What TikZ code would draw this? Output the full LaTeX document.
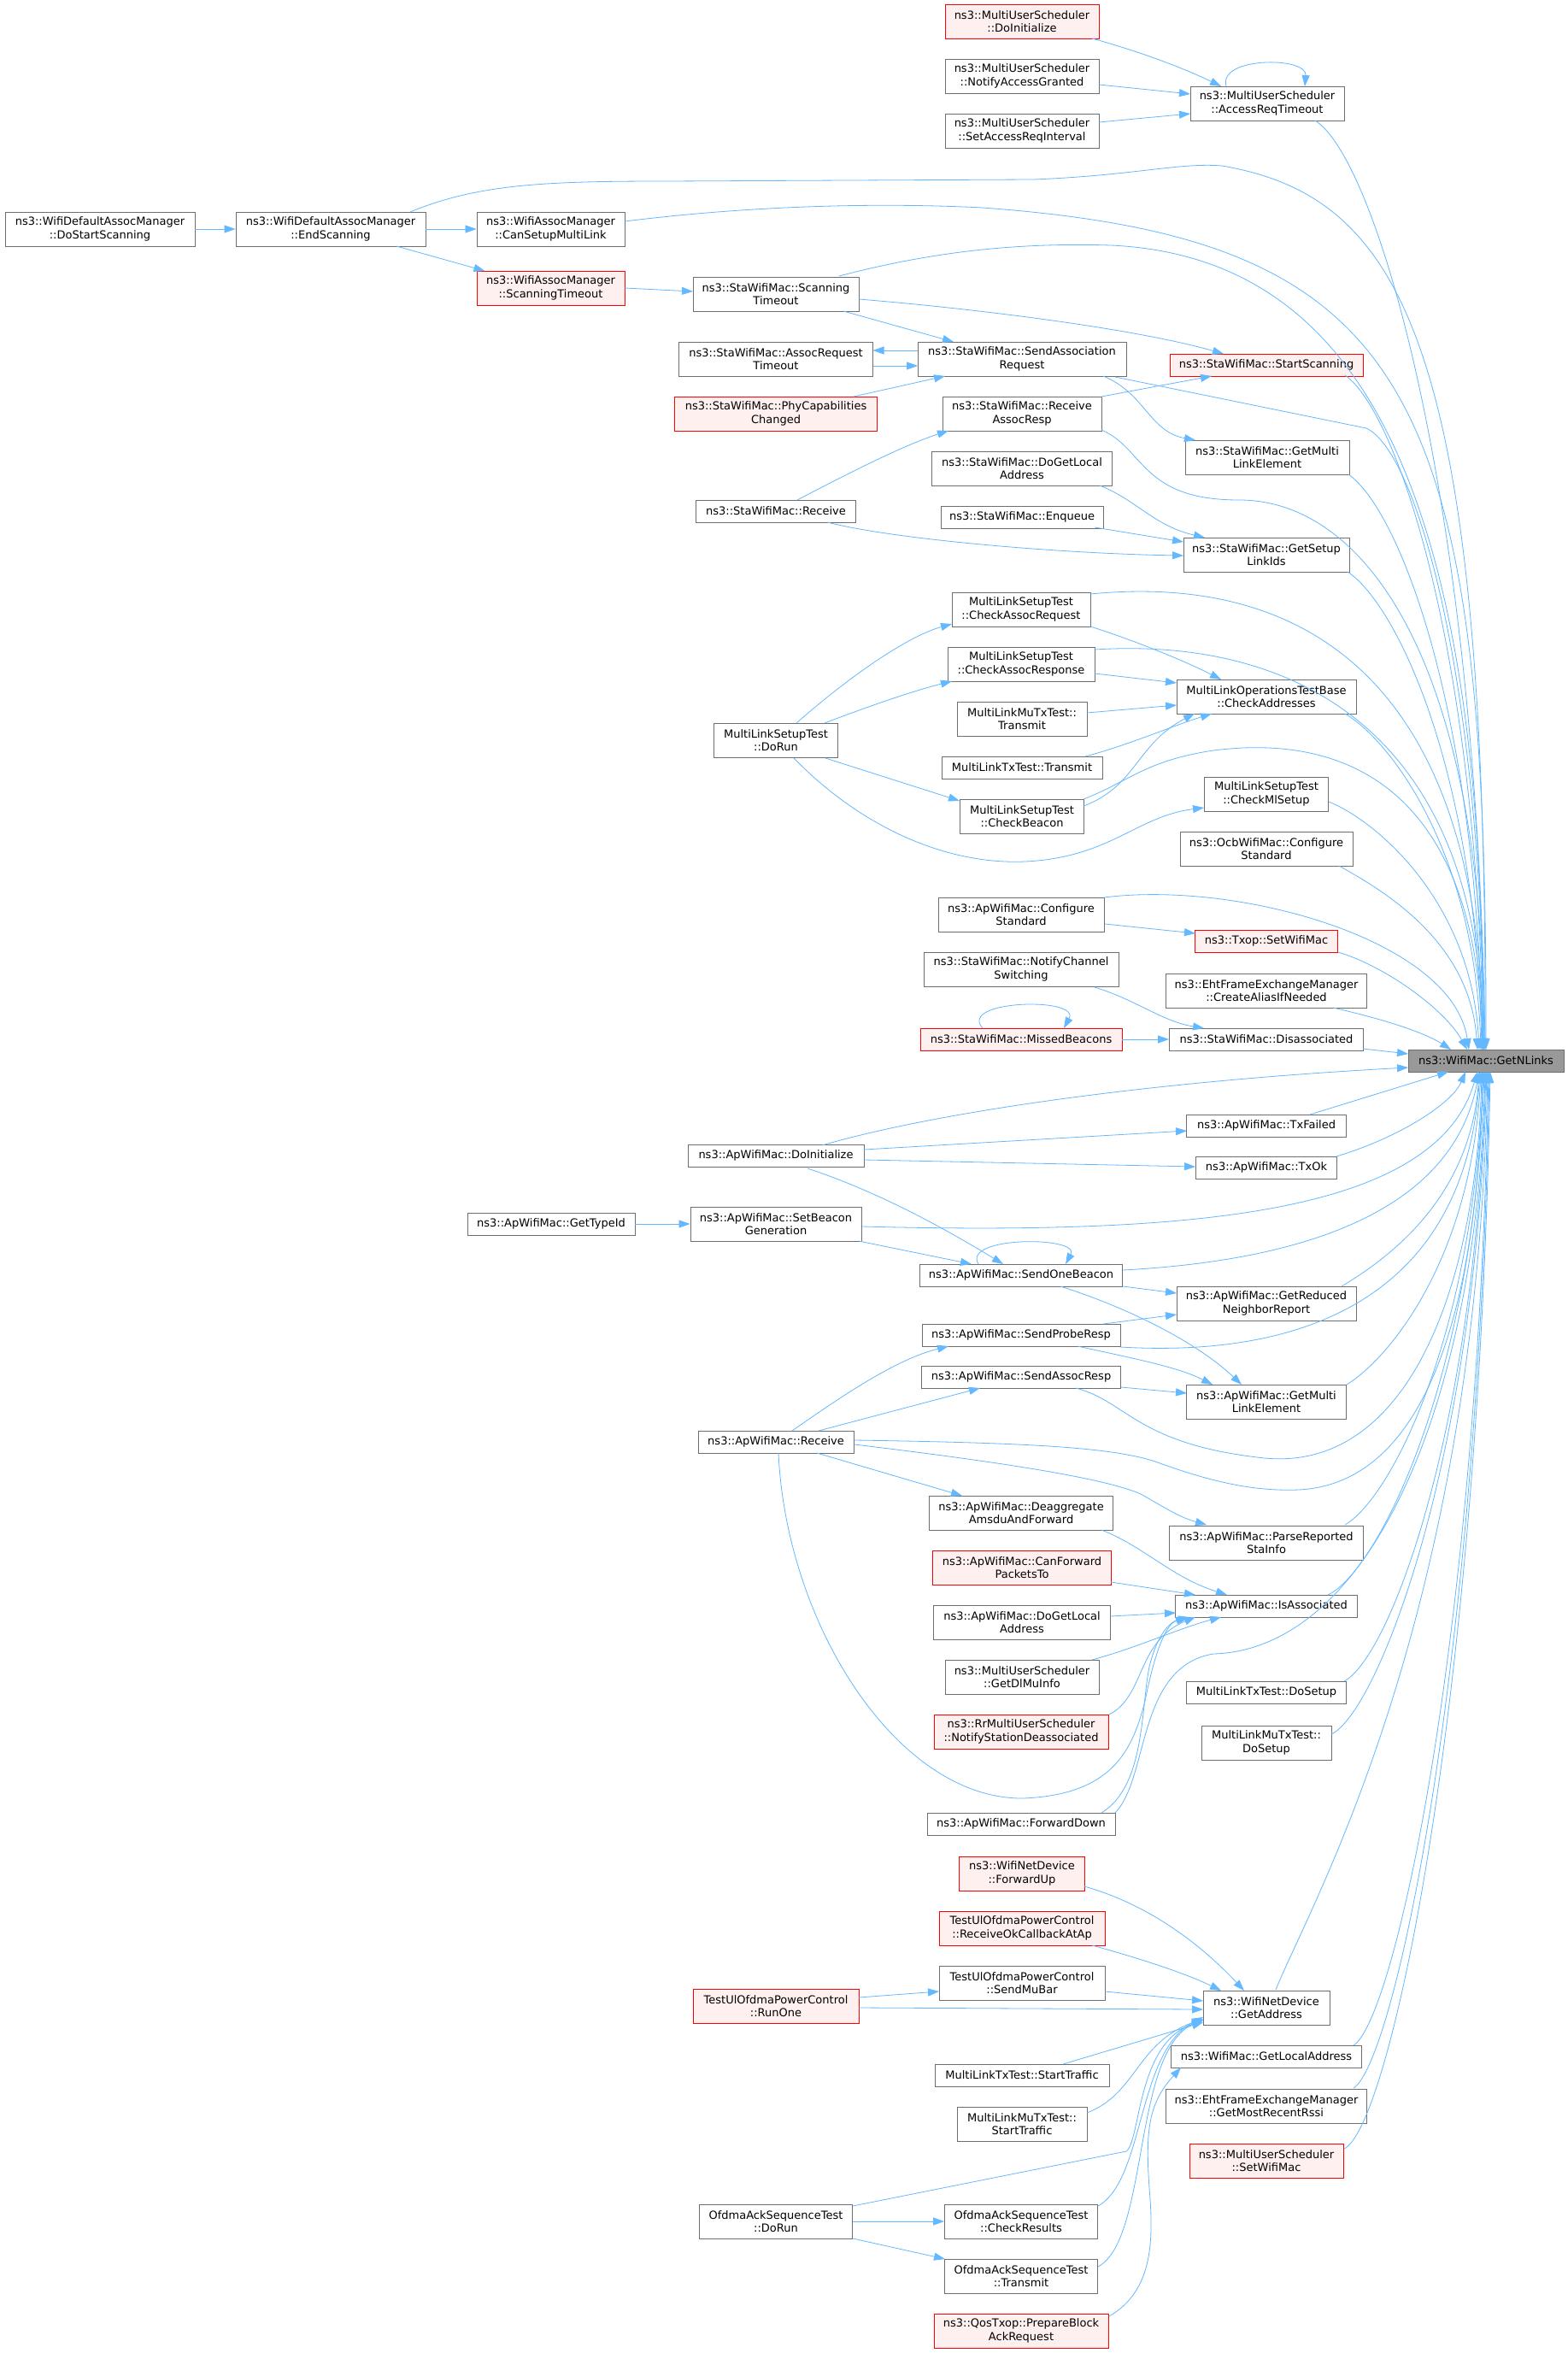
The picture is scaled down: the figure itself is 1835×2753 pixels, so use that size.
\documentclass[tikz,border=0pt]{standalone}
\usepackage{fontspec}
\setmainfont{DejaVu Sans}
\usetikzlibrary{arrows.meta,calc}
\definecolor{edgeblue}{HTML}{63B8FF}
\definecolor{nodeborder}{HTML}{6E6E6E}
\definecolor{redfill}{HTML}{FFF0F0}
\definecolor{hlfill}{HTML}{999999}
\tikzset{
  fn/.style={rectangle, draw=nodeborder, fill=white, line width=0.9pt, align=center,
    inner xsep=2pt, inner ysep=0pt, text=black, font=\fontsize{13}{15.5}\selectfont},
  ln1/.style={minimum height=26pt},
  ln2/.style={minimum height=40pt},
  rednode/.style={draw=red, fill=redfill},
  hlnode/.style={fill=hlfill, draw=nodeborder},
  cl/.style={draw=edgeblue, line width=0.8pt, -{Triangle[length=13pt,width=9pt]}},
}
\begin{document}
\begin{tikzpicture}[x=1pt,y=-1pt]
\useasboundingbox (0,0) rectangle (1835,2753);
\fill[white] (0,0) rectangle (1835,2753);

% target
\node[fn,ln1,hlnode,minimum width=182pt] (G) at (1739,1241) {ns3::WifiMac::GetNLinks};

% rank A
\node[fn,ln2,minimum width=180pt] (a1) at (1483,121) {ns3::MultiUserScheduler\\::AccessReqTimeout};
\node[fn,ln1,rednode,minimum width=226pt] (a2) at (1482,427) {ns3::StaWifiMac::StartScanning};
\node[fn,ln2,minimum width=192pt] (a3) at (1483,535) {ns3::StaWifiMac::GetMulti\\LinkElement};
\node[fn,ln2,minimum width=194pt] (a4) at (1482,649) {ns3::StaWifiMac::GetSetup\\LinkIds};
\node[fn,ln2,minimum width=210pt] (a5) at (1482,815) {MultiLinkOperationsTestBase\\::CheckAddresses};
\node[fn,ln2,minimum width=145pt] (a6) at (1482,929) {MultiLinkSetupTest\\::CheckMlSetup};
\node[fn,ln2,minimum width=202pt] (a7) at (1482,993) {ns3::OcbWifiMac::Configure\\Standard};
\node[fn,ln1,rednode,minimum width=167pt] (a8) at (1482,1101) {ns3::Txop::SetWifiMac};
\node[fn,ln2,minimum width=235pt] (a9) at (1482,1159) {ns3::EhtFrameExchangeManager\\::CreateAliasIfNeeded};
\node[fn,ln1,minimum width=227pt] (a10) at (1482,1216) {ns3::StaWifiMac::Disassociated};
\node[fn,ln1,minimum width=187pt] (a11) at (1482,1317) {ns3::ApWifiMac::TxFailed};
\node[fn,ln1,minimum width=165pt] (a12) at (1482,1366) {ns3::ApWifiMac::TxOk};
\node[fn,ln2,minimum width=210pt] (a13) at (1482,1525) {ns3::ApWifiMac::GetReduced\\NeighborReport};
\node[fn,ln2,minimum width=187pt] (a14) at (1482,1640) {ns3::ApWifiMac::GetMulti\\LinkElement};
\node[fn,ln2,minimum width=227pt] (a15) at (1482,1805) {ns3::ApWifiMac::ParseReported\\StaInfo};
\node[fn,ln1,minimum width=213pt] (a16) at (1482,1879) {ns3::ApWifiMac::IsAssociated};
\node[fn,ln1,minimum width=187pt] (a17) at (1482,1980) {MultiLinkTxTest::DoSetup};
\node[fn,ln2,minimum width=152pt] (a18) at (1482,2039) {MultiLinkMuTxTest::\\DoSetup};
\node[fn,ln2,minimum width=148pt] (a19) at (1482,2349) {ns3::WifiNetDevice\\::GetAddress};
\node[fn,ln1,minimum width=223pt] (a20) at (1482,2406) {ns3::WifiMac::GetLocalAddress};
\node[fn,ln2,minimum width=235pt] (a21) at (1482,2464) {ns3::EhtFrameExchangeManager\\::GetMostRecentRssi};
\node[fn,ln2,rednode,minimum width=180pt] (a22) at (1482,2528) {ns3::MultiUserScheduler\\::SetWifiMac};

% rank B
\node[fn,ln2,rednode,minimum width=180pt] (b1) at (1196,25) {ns3::MultiUserScheduler\\::DoInitialize};
\node[fn,ln2,minimum width=180pt] (b2) at (1196,89) {ns3::MultiUserScheduler\\::NotifyAccessGranted};
\node[fn,ln2,minimum width=180pt] (b3) at (1196,153) {ns3::MultiUserScheduler\\::SetAccessReqInterval};
\node[fn,ln2,minimum width=244pt] (b4) at (1196,420) {ns3::StaWifiMac::SendAssociation\\Request};
\node[fn,ln2,minimum width=186pt] (b5) at (1196,484) {ns3::StaWifiMac::Receive\\AssocResp};
\node[fn,ln2,minimum width=211pt] (b6) at (1196,548) {ns3::StaWifiMac::DoGetLocal\\Address};
\node[fn,ln1,minimum width=190pt] (b7) at (1196,605) {ns3::StaWifiMac::Enqueue};
\node[fn,ln2,minimum width=162pt] (b8) at (1195,713) {MultiLinkSetupTest\\::CheckAssocRequest};
\node[fn,ln2,minimum width=172pt] (b9) at (1195,777) {MultiLinkSetupTest\\::CheckAssocResponse};
\node[fn,ln2,minimum width=152pt] (b10) at (1196,841) {MultiLinkMuTxTest::\\Transmit};
\node[fn,ln1,minimum width=188pt] (b11) at (1196,898) {MultiLinkTxTest::Transmit};
\node[fn,ln2,minimum width=145pt] (b12) at (1196,955) {MultiLinkSetupTest\\::CheckBeacon};
\node[fn,ln2,minimum width=194pt] (b13) at (1195,1070) {ns3::ApWifiMac::Configure\\Standard};
\node[fn,ln2,minimum width=228pt] (b14) at (1195,1134) {ns3::StaWifiMac::NotifyChannel\\Switching};
\node[fn,ln1,rednode,minimum width=236pt] (b15) at (1195,1216) {ns3::StaWifiMac::MissedBeacons};
\node[fn,ln1,minimum width=237pt] (b16) at (1195,1492) {ns3::ApWifiMac::SendOneBeacon};
\node[fn,ln1,minimum width=232pt] (b17) at (1195,1562) {ns3::ApWifiMac::SendProbeResp};
\node[fn,ln1,minimum width=233pt] (b18) at (1195,1611) {ns3::ApWifiMac::SendAssocResp};
\node[fn,ln2,minimum width=215pt] (b19) at (1195,1770) {ns3::ApWifiMac::Deaggregate\\AmsduAndForward};
\node[fn,ln2,rednode,minimum width=209pt] (b20) at (1196,1834) {ns3::ApWifiMac::CanForward\\PacketsTo};
\node[fn,ln2,minimum width=207pt] (b21) at (1196,1898) {ns3::ApWifiMac::DoGetLocal\\Address};
\node[fn,ln2,minimum width=180pt] (b22) at (1196,1962) {ns3::MultiUserScheduler\\::GetDlMuInfo};
\node[fn,ln2,rednode,minimum width=204pt] (b23) at (1195,2026) {ns3::RrMultiUserScheduler\\::NotifyStationDeassociated};
\node[fn,ln1,minimum width=220pt] (b24) at (1195,2134) {ns3::ApWifiMac::ForwardDown};
\node[fn,ln2,rednode,minimum width=147pt] (b25) at (1196,2192) {ns3::WifiNetDevice\\::ForwardUp};
\node[fn,ln2,rednode,minimum width=194pt] (b26) at (1196,2256) {TestUlOfdmaPowerControl\\::ReceiveOkCallbackAtAp};
\node[fn,ln2,minimum width=194pt] (b27) at (1196,2320) {TestUlOfdmaPowerControl\\::SendMuBar};
\node[fn,ln1,minimum width=204pt] (b28) at (1196,2428) {MultiLinkTxTest::StartTraffic};
\node[fn,ln2,minimum width=152pt] (b29) at (1196,2485) {MultiLinkMuTxTest::\\StartTraffic};
\node[fn,ln2,minimum width=179pt] (b30) at (1195,2599) {OfdmaAckSequenceTest\\::CheckResults};
\node[fn,ln2,minimum width=179pt] (b31) at (1195,2663) {OfdmaAckSequenceTest\\::Transmit};
\node[fn,ln2,rednode,minimum width=204pt] (b32) at (1195,2727) {ns3::QosTxop::PrepareBlock\\AckRequest};

% rank C
\node[fn,ln2,minimum width=194pt] (c1) at (908,344) {ns3::StaWifiMac::Scanning\\Timeout};
\node[fn,ln2,minimum width=227pt] (c2) at (908,420) {ns3::StaWifiMac::AssocRequest\\Timeout};
\node[fn,ln2,rednode,minimum width=237pt] (c3) at (908,484) {ns3::StaWifiMac::PhyCapabilities\\Changed};
\node[fn,ln1,minimum width=187pt] (c4) at (908,598) {ns3::StaWifiMac::Receive};
\node[fn,ln2,minimum width=145pt] (c5) at (908,866) {MultiLinkSetupTest\\::DoRun};
\node[fn,ln1,minimum width=206pt] (c6) at (908,1352) {ns3::ApWifiMac::DoInitialize};
\node[fn,ln2,minimum width=200pt] (c7) at (908,1432) {ns3::ApWifiMac::SetBeacon\\Generation};
\node[fn,ln1,minimum width=182pt] (c8) at (908,1687) {ns3::ApWifiMac::Receive};
\node[fn,ln2,rednode,minimum width=194pt] (c9) at (908,2347) {TestUlOfdmaPowerControl\\::RunOne};
\node[fn,ln2,minimum width=179pt] (c10) at (908,2599) {OfdmaAckSequenceTest\\::DoRun};

% rank D, E, F
\node[fn,ln2,minimum width=173pt] (d1) at (644.5,268) {ns3::WifiAssocManager\\::CanSetupMultiLink};
\node[fn,ln2,rednode,minimum width=173pt] (d2) at (644.5,337) {ns3::WifiAssocManager\\::ScanningTimeout};
\node[fn,ln1,minimum width=196pt] (d3) at (645,1432) {ns3::ApWifiMac::GetTypeId};
\node[fn,ln2,minimum width=222pt] (e1) at (387,268) {ns3::WifiDefaultAssocManager\\::EndScanning};
\node[fn,ln2,minimum width=222pt] (f1) at (117,268) {ns3::WifiDefaultAssocManager\\::DoStartScanning};

% ---------- edges: top group
\draw[cl] ($(b1)+(82,20)$) .. controls (1340,62) and (1390,82) .. ($(a1)+(-54,-20)$);
\draw[cl] ($(b2)+(90,10)$) -- ($(a1)+(-90,-11)$);
\draw[cl] ($(b3)+(90,-10)$) -- ($(a1)+(-90,12)$);
\draw[cl] ($(a1)+(-48,-20)$) .. controls (1425,66) and (1530,66) .. ($(a1)+(44,-20)$);
\draw[cl] ($(a1)+(56,20)$) .. controls (1610,185) and (1728,576) .. ($(G)+(-1,-13)$);

\draw[cl] (f1.east) -- (e1.west);
\draw[cl] (e1.east) -- (d1.west);
\draw[cl] ($(e1)+(77,20)$) -- ($(d2)+(-77,-20)$);
\draw[cl] ($(e1)+(93,-20)$) .. controls (560,215) and (640,212) .. (780,212) -- (1210,210) .. controls (1330,205) and (1380,190) .. (1430,194) .. controls (1640,230) and (1740,400) .. ($(G)+(-1,-13)$);
\draw[cl] ($(d1)+(86.5,-9)$) .. controls (900,238) and (1050,238) .. (1150,243) .. controls (1650,280) and (1740,450) .. ($(G)+(0,-13)$);
\draw[cl] (d2.east) -- ($(c1)+(-97,-3)$);
\draw[cl] ($(c1)+(74,-21)$) .. controls (1100,292) and (1200,284) .. (1300,287) .. controls (1580,300) and (1738,550) .. ($(G)+(-4,-13)$);
\draw[cl] ($(c1)+(79,20)$) -- ($(b4)+(-80,-20)$);
\draw[cl] ($(c1)+(97,6)$) .. controls (1150,362) and (1330,385) .. ($(a2)+(-50,-13)$);
\draw[cl] ($(b4)+(-122,-10)$) -- ($(c2)+(113.5,-10)$);
\draw[cl] ($(c2)+(113.5,8)$) -- ($(b4)+(-122,8)$);
\draw[cl] ($(c3)+(91,-20)$) -- ($(b4)+(-90,20)$);
\draw[cl] ($(b4)+(95,20)$) .. controls (1340,460) and (1345,505) .. ($(a3)+(-84,-20)$);
\draw[cl] ($(b4)+(109,21)$) -- (1599,501) .. controls (1660,530) and (1733,800) .. ($(G)+(-2,-13)$);
\draw[cl] ($(b5)+(93,-20)$) -- ($(a2)+(-64,13)$);
\draw[cl] ($(b5)+(93,19)$) .. controls (1340,525) and (1335,585) .. (1450,585) .. controls (1600,585) and (1735,780) .. ($(G)+(-2,-13)$);
\draw[cl] ($(a2)+(92,12)$) .. controls (1634,480) and (1728,755) .. ($(G)+(-3,-13)$);
\draw[cl] ($(c4)+(25,-13)$) .. controls (1000,550) and (1060,520) .. ($(b5)+(-86,20)$);
\draw[cl] ($(c4)+(60,13)$) .. controls (1050,632) and (1250,648) .. ($(a4)+(-97,1)$);
\draw[cl] ($(b6)+(91,20)$) .. controls (1330,585) and (1350,615) .. ($(a4)+(-72,-20)$);
\draw[cl] ($(b7)+(85,12)$) -- ($(a4)+(-97,-15)$);
\draw[cl] ($(a3)+(95,20)$) .. controls (1636,595) and (1727,824) .. ($(G)+(-4,-13)$);
\draw[cl] ($(a4)+(95,20)$) .. controls (1632,705) and (1726,893) .. ($(G)+(-5,-13)$);

% ---------- MultiLinkSetupTest group
\draw[cl] ($(c5)+(24,-20)$) .. controls (990,795) and (1060,745) .. ($(b8)+(-81,17)$);
\draw[cl] ($(c5)+(57,-20)$) .. controls (1020,825) and (1070,808) .. ($(b9)+(-81,20)$);
\draw[cl] ($(c5)+(58,21)$) -- ($(b12)+(-73,-18)$);
\draw[cl] ($(c5)+(21,21)$) .. controls (1010,970) and (1110,1012) .. (1200,1008) .. controls (1300,1003) and (1330,955) .. ($(a6)+(-73,16)$);
\draw[cl] ($(b8)+(81,20)$) .. controls (1330,750) and (1390,775) .. ($(a5)+(-53,-20)$);
\draw[cl] ($(b9)+(86,11)$) -- ($(a5)+(-105,-16)$);
\draw[cl] ($(b10)+(76,-7)$) -- ($(a5)+(-105,10)$);
\draw[cl] ($(b11)+(74,-13)$) .. controls (1320,872) and (1370,850) .. ($(a5)+(-64,20)$);
\draw[cl] ($(b12)+(72,-12)$) .. controls (1330,920) and (1330,870) .. ($(a5)+(-84,20)$);
\draw[cl] ($(b8)+(81,-18)$) .. controls (1530,670) and (1730,800) .. ($(G)+(-3,-13)$);
\draw[cl] ($(b9)+(86,-17)$) .. controls (1520,745) and (1730,860) .. ($(G)+(-3,-13)$);
\draw[cl] ($(b12)+(72,-20)$) .. controls (1320,915) and (1340,890) .. (1420,878) .. controls (1600,855) and (1728,950) .. ($(G)+(-4,-13)$);
\draw[cl] ($(a5)+(92,20)$) .. controls (1625,865) and (1725,992) .. ($(G)+(-6,-13)$);
\draw[cl] ($(a6)+(73,9)$) .. controls (1610,960) and (1722,1054) .. ($(G)+(-8,-13)$);
\draw[cl] ($(a7)+(85,20)$) .. controls (1615,1040) and (1720,1099) .. ($(G)+(-10,-13)$);

% ---------- middle group
\draw[cl] ($(b13)+(98,11)$) -- ($(a8)+(-83,-9)$);
\draw[cl] ($(b13)+(97,-20)$) .. controls (1450,1030) and (1700,1100) .. ($(G)+(-20,-13)$);
\draw[cl] ($(a8)+(84,13)$) .. controls (1620,1130) and (1690,1180) .. ($(G)+(-22,-13)$);
\draw[cl] ($(a9)+(78,20)$) .. controls (1630,1195) and (1670,1210) .. ($(G)+(-41,-13)$);
\draw[cl] ($(b14)+(86,21)$) .. controls (1330,1170) and (1360,1195) .. ($(a10)+(-73,-13)$);
\draw[cl] ($(b15)+(-45,-13)$) .. controls (1120,1170) and (1265,1166) .. ($(b15)+(50,-13)$);
\draw[cl] (b15.east) -- (a10.west);
\draw[cl] ($(a10)+(113,11)$) -- ($(G)+(-91,-8)$);
\draw[cl] ($(c6)+(54,-12)$) .. controls (1100,1300) and (1350,1265) .. ($(G)+(-91,8)$);
\draw[cl] ($(c6)+(103,-7)$) -- ($(a11)+(-93,6)$);
\draw[cl] ($(c6)+(103,5)$) -- ($(a12)+(-83,-1)$);
\draw[cl] ($(c6)+(37,15)$) .. controls (1030,1395) and (1110,1440) .. ($(b16)+(-21,-13)$);
\draw[cl] ($(a11)+(51,-13)$) -- ($(G)+(-44,13)$);
\draw[cl] ($(a12)+(82,-13)$) .. controls (1640,1330) and (1700,1290) .. ($(G)+(-24,13)$);
\draw[cl] (d3.east) -- (c7.west);
\draw[cl] ($(c7)+(97,20)$) -- ($(b16)+(-58,-13)$);
\draw[cl] ($(c7)+(101,3)$) .. controls (1400,1445) and (1680,1420) .. ($(G)+(-10,13)$);
\draw[cl] ($(b16)+(-50,-13)$) .. controls (1125,1446) and (1265,1446) .. ($(b16)+(52,-13)$);
\draw[cl] ($(b16)+(119,13)$) -- ($(a13)+(-105,-12)$);
\draw[cl] ($(b16)+(46,13)$) .. controls (1320,1530) and (1400,1570) .. ($(a14)+(-29,-20)$);
\draw[cl] ($(b16)+(119,-6)$) .. controls (1520,1475) and (1700,1420) .. ($(G)+(-8,13)$);
\draw[cl] ($(b17)+(96,-13)$) -- ($(a13)+(-105,13)$);
\draw[cl] ($(b17)+(66,13)$) .. controls (1330,1590) and (1380,1600) .. ($(a14)+(-63,-20)$);
\draw[cl] ($(b17)+(116,14)$) .. controls (1550,1590) and (1715,1500) .. ($(G)+(-7,13)$);
\draw[cl] ($(b18)+(117,12)$) -- ($(a14)+(-93,-10)$);
\draw[cl] ($(b18)+(64,13)$) .. controls (1320,1640) and (1330,1690) .. (1480,1706) .. controls (1650,1722) and (1728,1500) .. ($(G)+(-5,13)$);
\draw[cl] ($(a13)+(88,-20)$) .. controls (1620,1475) and (1721,1405) .. ($(G)+(-8,13)$);
\draw[cl] ($(a14)+(94,-20)$) .. controls (1625,1590) and (1722,1474) .. ($(G)+(-6,13)$);
\draw[cl] ($(c8)+(19,-13)$) .. controls (990,1630) and (1050,1590) .. ($(b17)+(-85,13)$);
\draw[cl] ($(c8)+(50,-13)$) -- ($(b18)+(-48,13)$);
\draw[cl] ($(c8)+(48,13)$) -- ($(b19)+(-69,-20)$);
\draw[cl] ($(c8)+(92,3)$) .. controls (1150,1708) and (1290,1728) .. (1335,1748) .. controls (1365,1765) and (1380,1775) .. ($(a15)+(-70,-21)$);
\draw[cl] ($(c8)+(92,-2)$) .. controls (1200,1688) and (1300,1693) .. (1352,1710) .. controls (1420,1735) and (1470,1745) .. (1520,1743) .. controls (1680,1735) and (1730,1500) .. ($(G)+(-4,13)$);
\draw[cl] ($(c8)+(3,13)$) .. controls (920,1900) and (1050,2105) .. (1197,2104) .. controls (1300,2100) and (1325,2050) .. (1340,1990) .. controls (1352,1930) and (1365,1900) .. ($(a16)+(-93,13)$);
\draw[cl] ($(b19)+(94,20)$) .. controls (1340,1810) and (1370,1845) .. ($(a16)+(-46,-13)$);
\draw[cl] ($(b20)+(104,17)$) -- ($(a16)+(-83,-13)$);
\draw[cl] ($(b21)+(103,-7)$) -- ($(a16)+(-106,8)$);
\draw[cl] ($(b22)+(82,-20)$) .. controls (1330,1928) and (1380,1905) .. ($(a16)+(-53,13)$);
\draw[cl] ($(b23)+(103,-20)$) .. controls (1340,1985) and (1330,1920) .. ($(a16)+(-83,13)$);
\draw[cl] ($(b24)+(94,-13)$) .. controls (1340,2090) and (1335,2000) .. (1345,1950) .. controls (1355,1910) and (1370,1897) .. ($(a16)+(-90,13)$);
\draw[cl] ($(b24)+(110,-13)$) .. controls (1345,2080) and (1330,1950) .. (1420,1935) .. controls (1600,1930) and (1728,1650) .. ($(G)+(-1,13)$);
\draw[cl] ($(a15)+(92,-21)$) .. controls (1625,1755) and (1723,1572) .. ($(G)+(-3,13)$);
\draw[cl] ($(a16)+(72,-13)$) .. controls (1610,1840) and (1724,1621) .. ($(G)+(-2,13)$);
\draw[cl] ($(a17)+(91,-13)$) .. controls (1625,1940) and (1725,1682) .. ($(G)+(0,13)$);
\draw[cl] ($(a18)+(76,-10)$) .. controls (1610,2005) and (1726,1719) .. ($(G)+(1,13)$);

% ---------- bottom group
\draw[cl] ($(b25)+(73,15)$) .. controls (1350,2230) and (1410,2280) .. ($(a19)+(-26,-20)$);
\draw[cl] ($(b26)+(82,20)$) .. controls (1340,2293) and (1390,2310) .. ($(a19)+(-53,-20)$);
\draw[cl] ($(b27)+(97,10)$) -- ($(a19)+(-74,-8)$);
\draw[cl] ($(c9)+(97,-10)$) -- ($(b27)+(-97,10)$);
\draw[cl] ($(c9)+(97,2)$) -- ($(a19)+(-74,2)$);
\draw[cl] ($(b28)+(48,-13)$) -- ($(a19)+(-74,17)$);
\draw[cl] ($(b29)+(76,-13)$) .. controls (1330,2450) and (1330,2390) .. ($(a19)+(-74,13)$);
\draw[cl] ($(c10)+(90,-18)$) -- (1318,2517) .. controls (1335,2505) and (1330,2390) .. ($(a19)+(-74,15)$);
\draw[cl] (c10.east) -- (b30.west);
\draw[cl] ($(c10)+(90,20)$) -- ($(b31)+(-89,-20)$);
\draw[cl] ($(b30)+(90,-18)$) .. controls (1340,2550) and (1330,2400) .. ($(a19)+(-74,11)$);
\draw[cl] ($(b31)+(90,-11)$) .. controls (1345,2620) and (1325,2400) .. ($(a19)+(-74,14)$);
\draw[cl] ($(b32)+(103,-17)$) .. controls (1350,2680) and (1350,2620) .. (1345,2560) .. controls (1340,2490) and (1345,2460) .. ($(a20)+(-100,13)$);
\draw[cl] ($(a19)+(11,-21)$) .. controls (1533,2228) and (1727,1898) .. ($(G)+(2,13)$);
\draw[cl] ($(a20)+(102,-13)$) .. controls (1630,2365) and (1728,1937) .. ($(G)+(3,13)$);
\draw[cl] ($(a21)+(102,-21)$) .. controls (1630,2415) and (1729,1967) .. ($(G)+(4,13)$);
\draw[cl] ($(a22)+(91,-14)$) .. controls (1625,2490) and (1730,2010) .. ($(G)+(5,13)$);
\end{tikzpicture}
\end{document}
